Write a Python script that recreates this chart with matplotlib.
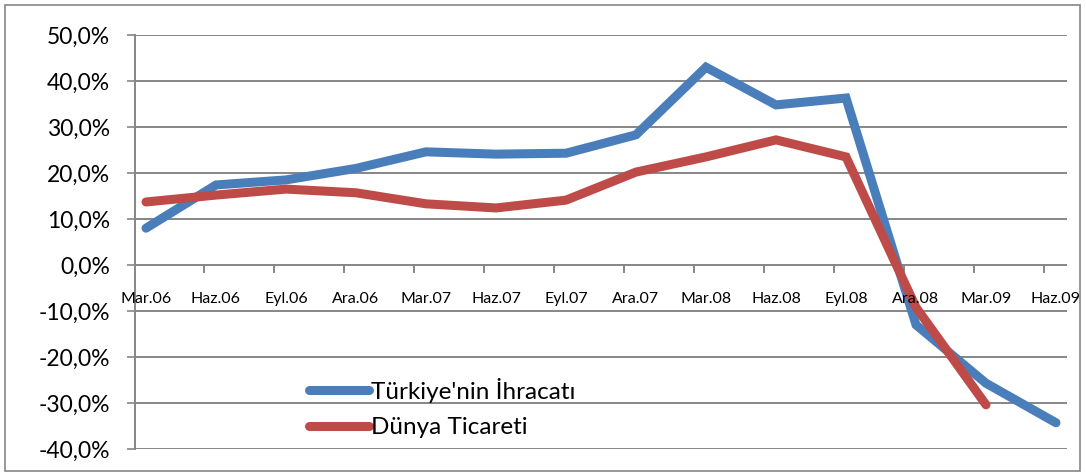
"""Türkiye exports vs world trade growth, 2006-2009."""

import matplotlib
matplotlib.use("Agg")
import matplotlib.pyplot as plt
from matplotlib.patches import Rectangle
from matplotlib.ticker import FuncFormatter

# quarterly labels
periods = ["Mar.06", "Haz.06", "Eyl.06", "Ara.06", "Mar.07", "Haz.07", "Eyl.07",
           "Ara.07", "Mar.08", "Haz.08", "Eyl.08", "Ara.08", "Mar.09", "Haz.09"]

# yearly change, %
turkiye = [8.0, 17.4, 18.5, 21.0, 24.6, 24.1, 24.3, 28.3, 43.0, 34.8, 36.3,
           -13.0, -25.7, -34.3]
dunya = [13.7, 15.2, 16.5, 15.7, 13.3, 12.4, 14.1, 20.2, 23.5, 27.2, 23.5,
         -9.2, -30.4]

BLUE = "#4A7EBB"
RED = "#BE4B48"
GRID = "#868686"

plt.rcParams["font.family"] = ["Lato", "DejaVu Sans"]

fig = plt.figure(figsize=(10.86, 4.76), dpi=100)
ax = fig.add_axes([135 / 1086, 27 / 476, 932 / 1086, 414 / 476])

x = list(range(len(periods)))
ax.plot(x, turkiye, color=BLUE, linewidth=6.5, solid_capstyle="round",
        solid_joinstyle="miter", label="Türkiye'nin İhracatı", zorder=3)
ax.plot(x[:len(dunya)], dunya, color=RED, linewidth=6.5, solid_capstyle="round",
        solid_joinstyle="miter", label="Dünya Ticareti", zorder=3)

ax.set_xlim(-11 / 70, 13 + 11 / 70)
ax.set_ylim(-40, 50)
ax.set_yticks(range(-40, 51, 10))
ax.yaxis.set_major_formatter(FuncFormatter(lambda v, _: f"{v:.1f}%".replace(".", ",")))
ax.tick_params(axis="y", length=6, width=1.2, color=GRID, labelsize=16.5, pad=12)
ax.grid(axis="y", color=GRID, linewidth=1.4, zorder=1)

for s in ["top", "right", "bottom"]:
    ax.spines[s].set_visible(False)
ax.spines["left"].set_color(GRID)
ax.spines["left"].set_linewidth(1.4)

# category axis sits on the zero line
ax.set_xticks([])
for k in range(13):
    ax.plot([k + 58 / 70] * 2, [0, -1.5], color=GRID, linewidth=1.4, zorder=1,
            clip_on=False)
for xi, lab in zip(x, periods):
    ax.text(xi, -7.4, lab, ha="center", va="center", fontsize=11.5, color="black")

ax.legend(loc="lower left", bbox_to_anchor=(0.17, -0.012), frameon=False,
          fontsize=17.5, handlelength=2.45, handletextpad=0.08, labelspacing=0.6,
          borderaxespad=0.25)

fig.patches.append(Rectangle((5 / 1086, 5 / 476), 1075 / 1086, 466 / 476,
                             transform=fig.transFigure, fill=False,
                             edgecolor=GRID, linewidth=1.2))

fig.savefig("out.png", dpi=100)
plt.close(fig)
